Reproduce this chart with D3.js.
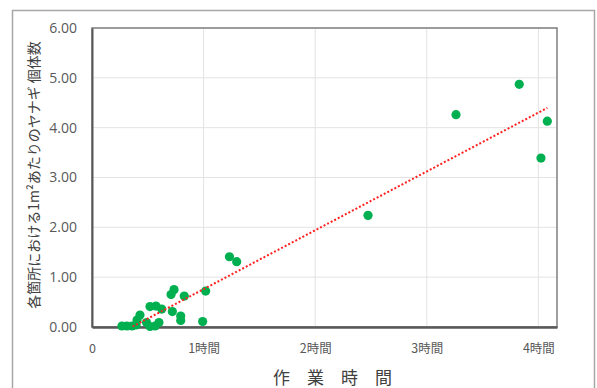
<!DOCTYPE html>
<html>
<head>
<meta charset="utf-8">
<script src="https://cdn.jsdelivr.net/npm/d3@7"></script>
<style>
  body { margin: 0; background: #fff; }
  svg { display: block; }
</style>
</head>
<body>
<div id="scatter_plot"></div>
<script>
// work time in minutes, willow count per m2
var minutes = [16.1, 18.8, 21.5, 23.7, 24.2, 25.8, 29.3, 31.2, 33.9, 36.0,
               31.2, 34.4, 37.5, 43.2, 47.7, 47.7, 42.5, 44.1, 49.6, 61.1,
               59.5, 73.9, 77.8, 148.4, 195.7, 229.7, 244.8, 241.4];
var counts = [0.02, 0.02, 0.02, 0.04, 0.14, 0.24, 0.09, 0.01, 0.02, 0.09,
              0.41, 0.42, 0.36, 0.31, 0.22, 0.13, 0.65, 0.75, 0.62, 0.72,
              0.11, 1.41, 1.31, 2.24, 4.26, 4.87, 4.13, 3.39];

var xTicks = [0, 60, 120, 180, 240];
var xTickLabels = ["0", "1時間", "2時間", "3時間", "4時間"];
var yTicks = [0, 1, 2, 3, 4, 5, 6];

var W = 597, H = 388;
var margin = {top: 28, right: 40, bottom: 61, left: 92},
    width = W - margin.left - margin.right,
    height = H - margin.top - margin.bottom;

var svg = d3.select("#scatter_plot")
    .append("svg")
    .attr("width", W)
    .attr("height", H);

// outer chart frame
svg.append("rect")
    .attr("x", 12.5).attr("y", 10.5)
    .attr("width", 582).attr("height", 400)
    .attr("fill", "none")
    .attr("stroke", "#a6a6a6")
    .attr("stroke-width", 1.5);

var g = svg.append("g")
    .attr("transform", "translate(" + margin.left + "," + margin.top + ")");

var x = d3.scaleLinear().domain([0, 250]).range([0, width]);
var y = d3.scaleLinear().domain([0, 6]).range([height, 0]);

// grid
g.append("g")
    .selectAll("line")
    .data(yTicks)
    .enter().append("line")
    .attr("x1", 0).attr("x2", width)
    .attr("y1", function(d) { return y(d); })
    .attr("y2", function(d) { return y(d); })
    .attr("stroke", "#e3e3e3");
g.append("g")
    .selectAll("line")
    .data(xTicks.slice(1))
    .enter().append("line")
    .attr("x1", function(d) { return x(d); })
    .attr("x2", function(d) { return x(d); })
    .attr("y1", 0).attr("y2", height)
    .attr("stroke", "#e3e3e3");

// plot frame
g.append("rect")
    .attr("width", width).attr("height", height)
    .attr("fill", "none")
    .attr("stroke", "#7f7f7f")
    .attr("stroke-width", 1.5);

// Y axis
var yAxis = g.append("g")
    .call(d3.axisLeft(y).tickValues(yTicks).tickSize(0).tickPadding(15).tickFormat(d3.format(".2f")));
yAxis.select(".domain").attr("stroke", "#595959").attr("stroke-width", 2);
yAxis.selectAll("text")
    .style("font-family", "'Open Sans', sans-serif")
    .style("font-size", "14px")
    .attr("fill", "#595959");

// X axis
var xAxis = g.append("g")
    .attr("transform", "translate(0," + height + ")")
    .call(d3.axisBottom(x).tickValues(xTicks).tickSize(0).tickPadding(17)
        .tickFormat(function(d, i) { return xTickLabels[i]; }));
xAxis.select(".domain").attr("stroke", "#595959").attr("stroke-width", 2.5);
xAxis.selectAll("text")
    .style("font-family", "'Noto Sans CJK JP', sans-serif")
    .style("font-size", "12.5px")
    .attr("fill", "#595959");

// clip for trend line
svg.append("clipPath").attr("id", "plotclip")
    .append("rect").attr("width", width).attr("height", height);

// linear trend (least squares)
var mx = d3.mean(minutes), my = d3.mean(counts);
var sxy = d3.sum(minutes, function(v, i) { return (v - mx) * (counts[i] - my); });
var sxx = d3.sum(minutes, function(v) { return (v - mx) * (v - mx); });
var slope = sxy / sxx, intercept = my - slope * mx;
var x0 = d3.min(minutes), x1 = d3.max(minutes);

// dots
g.append("g")
    .selectAll("circle")
    .data(minutes)
    .enter()
    .append("circle")
    .attr("cx", function(d) { return x(d); })
    .attr("cy", function(d, i) { return y(counts[i]); })
    .attr("r", 4.6)
    .style("fill", "#00b050");

g.append("line")
    .attr("clip-path", "url(#plotclip)")
    .attr("x1", x(x0)).attr("y1", y(intercept + slope * x0))
    .attr("x2", x(x1)).attr("y2", y(intercept + slope * x1))
    .attr("stroke", "#ff2020")
    .attr("stroke-width", 2)
    .attr("stroke-dasharray", "2,2");

// Y axis title
svg.append("text")
    .attr("transform", "translate(39,175) rotate(-90)")
    .attr("text-anchor", "middle")
    .style("font-family", "'Noto Sans CJK JP', sans-serif")
    .style("font-size", "14px")
    .attr("fill", "#404040")
    .text("各箇所における1m²あたりのヤナギ 個体数");

// X axis title
svg.append("text")
    .attr("x", 273)
    .attr("y", 384)
    .style("font-family", "'Noto Sans CJK JP', sans-serif")
    .style("font-size", "17px")
    .style("letter-spacing", "17px")
    .attr("fill", "#404040")
    .text("作業時間");
</script>
</body>
</html>
